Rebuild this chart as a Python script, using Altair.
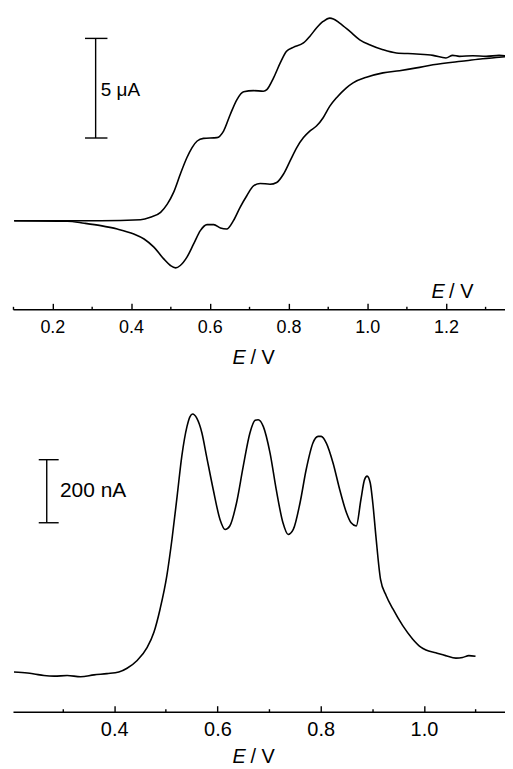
import altair as alt
import pandas as pd

# ---------------- data ----------------
# Top panel: cyclic voltammogram (E in V, current in µA, relative to baseline)
cv_fwd_E = [0.103, 0.323, 0.424, 0.449, 0.475, 0.492, 0.508, 0.525, 0.542, 0.555, 0.568,
            0.584, 0.618, 0.635, 0.652, 0.669, 0.686, 0.711, 0.736, 0.745, 0.762, 0.779,
            0.795, 0.812, 0.838, 0.854, 0.871, 0.888, 0.905, 0.914, 0.930, 0.956, 0.981,
            1.006, 1.040, 1.074, 1.125, 1.167, 1.200, 1.217, 1.234, 1.268, 1.302, 1.335, 1.361]
cv_fwd_I = [0.0, 0.0, 0.05, 0.17, 0.42, 0.83, 1.42, 2.33, 3.17, 3.67, 4.0,
            4.13, 4.17, 4.5, 5.33, 6.08, 6.47, 6.53, 6.5, 6.58, 7.17, 7.92,
            8.5, 8.7, 8.92, 9.25, 9.67, 10.0, 10.17, 10.13, 9.92, 9.5, 9.08,
            8.83, 8.58, 8.42, 8.37, 8.3, 8.17, 8.3, 8.25, 8.28, 8.25, 8.3, 8.25]
cv_rev_E = [0.103, 0.238, 0.281, 0.323, 0.365, 0.407, 0.433, 0.458, 0.483, 0.500, 0.513,
            0.525, 0.542, 0.559, 0.576, 0.593, 0.610, 0.627, 0.643, 0.660, 0.677, 0.694,
            0.711, 0.728, 0.753, 0.770, 0.787, 0.804, 0.821, 0.838, 0.854, 0.871, 0.888,
            0.905, 0.922, 0.947, 0.964, 0.998, 1.040, 1.082, 1.125, 1.167, 1.251, 1.293,
            1.335, 1.361]
cv_rev_I = [0.0, -0.03, -0.13, -0.25, -0.42, -0.67, -0.92, -1.33, -1.92, -2.25, -2.37,
            -2.25, -1.83, -1.17, -0.5, -0.2, -0.2, -0.37, -0.42, 0.0, 0.67, 1.25,
            1.75, 1.87, 1.83, 1.92, 2.33, 3.0, 3.67, 4.17, 4.5, 4.75, 5.17,
            5.75, 6.17, 6.67, 6.92, 7.2, 7.42, 7.53, 7.67, 7.83, 8.03, 8.13,
            8.2, 8.25]

# Bottom panel: differential pulse voltammogram (E in V, current in nA)
dpv_E = [0.206, 0.232, 0.245, 0.264, 0.284, 0.309, 0.335, 0.361, 0.386, 0.409, 0.425,
         0.444, 0.464, 0.477, 0.489, 0.502, 0.512, 0.522, 0.531, 0.541, 0.547, 0.552,
         0.560, 0.570, 0.579, 0.592, 0.605, 0.615, 0.624, 0.637, 0.650, 0.663, 0.673,
         0.679, 0.689, 0.702, 0.714, 0.727, 0.737, 0.747, 0.760, 0.772, 0.785, 0.795,
         0.801, 0.811, 0.824, 0.837, 0.850, 0.859, 0.869, 0.878, 0.885, 0.890, 0.896,
         0.901, 0.907, 0.916, 0.927, 0.940, 0.959, 0.978, 0.994, 1.004, 1.023, 1.042,
         1.062, 1.075, 1.087, 1.100]
dpv_I = [12, 9, 6, 1, -1, 1, -3, 3, 7, 12, 24,
         48, 90, 138, 212, 317, 433, 570, 696, 790, 822, 830,
         817, 770, 696, 590, 496, 464, 475, 548, 664, 770, 810,
         812, 790, 706, 590, 485, 448, 464, 548, 654, 738, 759,
         759, 738, 675, 590, 517, 485, 475, 559, 622, 633, 612,
         548, 443, 306, 254, 212, 159, 117, 91, 82, 73, 64,
         56, 58, 64, 62]

# axis ticks / labels
top_ticks = [0.1, 0.2, 0.3, 0.4, 0.5, 0.6, 0.7, 0.8, 0.9, 1.0, 1.1, 1.2, 1.3]
top_labels = [0.2, 0.4, 0.6, 0.8, 1.0, 1.2]
bot_ticks = [0.3, 0.4, 0.5, 0.6, 0.7, 0.8, 0.9, 1.0, 1.1]
bot_labels = [0.4, 0.6, 0.8, 1.0]

# scale bars (data units)
top_bar = {"E": 0.310, "lo": 4.15, "hi": 9.15, "capL": 0.283, "capR": 0.340}
top_bar_text = {"E": 0.323, "I": 6.58, "txt": "5 \u03bcA"}
bot_bar = {"E": 0.2694, "lo": 485.3, "hi": 685.2, "capL": 0.2539, "capR": 0.2925}
bot_bar_text = {"E": 0.295, "I": 587, "txt": "200 nA"}
corner_label = {"E_it": 1.163, "E_rest": 1.208, "I": -3.9}

FONT = "Liberation Sans"
W = 494
H_TOP = 301
H_BOT = 313

tick_cond = {"condition": {"test": "round(datum.value*10) % 2 == 0", "value": 6}, "value": 3}


def tick_axis(values, H, title, tx, ty):
    return alt.Axis(orient="top", offset=-H, values=values, labels=False, grid=False,
                    domainColor="black", domainWidth=1.5, tickColor="black", tickWidth=1.4,
                    tickSize=tick_cond, title=title, titleFont=FONT, titleFontSize=20,
                    titleFontWeight="normal", titleColor="black", titleX=tx, titleY=ty,
                    titleAlign="left", titleBaseline="alphabetic", titleAngle=0)


def label_axis(values, fsize, pad, tx, ty):
    return alt.Axis(orient="bottom", values=values, format=".1f", ticks=False, tickSize=0,
                    domain=False, grid=False, labelFont=FONT, labelFontSize=fsize,
                    labelColor="black", labelPadding=pad, labelFlush=False, labelOverlap=False,
                    title="E", titleFont=FONT, titleFontSize=20, titleFontStyle="italic",
                    titleFontWeight="normal", titleColor="black", titleX=tx, titleY=ty,
                    titleAlign="left", titleBaseline="alphabetic", titleAngle=0)


# ---------------- top panel ----------------
xs_top = alt.Scale(domain=[0.1, 1.35], nice=False, zero=False)
ys_top = alt.Scale(domain=[-4.45, 10.6], nice=False, zero=False)

cv_df = pd.concat([
    pd.DataFrame({"E": cv_fwd_E, "I": cv_fwd_I, "branch": "forward"}),
    pd.DataFrame({"E": cv_rev_E, "I": cv_rev_I, "branch": "reverse"}),
])

cv_line = alt.Chart(cv_df).mark_line(interpolate="monotone", color="black",
                                     strokeWidth=1.6, clip=True).encode(
    x=alt.X("E:Q", scale=xs_top, axis=tick_axis(top_ticks, H_TOP, "/ V", 238, 54)),
    y=alt.Y("I:Q", scale=ys_top, axis=None),
    detail="branch:N",
)

bar_df_top = pd.DataFrame({
    "x": [top_bar["E"], top_bar["capL"], top_bar["capL"]],
    "x2": [top_bar["E"], top_bar["capR"], top_bar["capR"]],
    "y": [top_bar["lo"], top_bar["lo"], top_bar["hi"]],
    "y2": [top_bar["hi"], top_bar["lo"], top_bar["hi"]],
})
bar_top = alt.Chart(bar_df_top).mark_rule(color="black", strokeWidth=1.4).encode(
    x=alt.X("x:Q", scale=xs_top, axis=label_axis(top_labels, 18, 9, 220, 54)),
    x2="x2:Q",
    y=alt.Y("y:Q", scale=ys_top, axis=None),
    y2="y2:Q",
)

txt_top = alt.Chart(pd.DataFrame([top_bar_text])).mark_text(
    font=FONT, fontSize=19, align="left", baseline="middle", color="black").encode(
    x=alt.X("E:Q", scale=xs_top, axis=None),
    y=alt.Y("I:Q", scale=ys_top, axis=None),
    text="txt:N",
)

corner_df = pd.DataFrame({
    "E": [corner_label["E_it"], corner_label["E_rest"]],
    "I": [corner_label["I"], corner_label["I"]],
    "txt": ["E", "/ V"],
})
corner_it = alt.Chart(corner_df.iloc[[0]]).mark_text(
    font=FONT, fontSize=20, fontStyle="italic", align="left", baseline="alphabetic",
    color="black").encode(
    x=alt.X("E:Q", scale=xs_top, axis=None),
    y=alt.Y("I:Q", scale=ys_top, axis=None),
    text="txt:N",
)
corner_rest = alt.Chart(corner_df.iloc[[1]]).mark_text(
    font=FONT, fontSize=20, align="left", baseline="alphabetic", color="black").encode(
    x=alt.X("E:Q", scale=xs_top, axis=None),
    y=alt.Y("I:Q", scale=ys_top, axis=None),
    text="txt:N",
)

top = alt.layer(cv_line, bar_top, txt_top, corner_it, corner_rest).resolve_axis(
    x="independent").properties(width=W, height=H_TOP)

# ---------------- bottom panel ----------------
xs_bot = alt.Scale(domain=[0.204, 1.1571], nice=False, zero=False)
ys_bot = alt.Scale(domain=[-113.7, 874.6], nice=False, zero=False)

dpv_df = pd.DataFrame({"E": dpv_E, "I": dpv_I})
dpv_line = alt.Chart(dpv_df).mark_line(interpolate="monotone", color="black",
                                       strokeWidth=1.6, clip=True).encode(
    x=alt.X("E:Q", scale=xs_bot, axis=tick_axis(bot_ticks, H_BOT, "/ V", 238, 51)),
    y=alt.Y("I:Q", scale=ys_bot, axis=None),
)

bar_df_bot = pd.DataFrame({
    "x": [bot_bar["E"], bot_bar["capL"], bot_bar["capL"]],
    "x2": [bot_bar["E"], bot_bar["capR"], bot_bar["capR"]],
    "y": [bot_bar["lo"], bot_bar["lo"], bot_bar["hi"]],
    "y2": [bot_bar["hi"], bot_bar["lo"], bot_bar["hi"]],
})
bar_bot = alt.Chart(bar_df_bot).mark_rule(color="black", strokeWidth=1.4).encode(
    x=alt.X("x:Q", scale=xs_bot, axis=label_axis(bot_labels, 20, 8, 220, 51)),
    x2="x2:Q",
    y=alt.Y("y:Q", scale=ys_bot, axis=None),
    y2="y2:Q",
)

txt_bot = alt.Chart(pd.DataFrame([bot_bar_text])).mark_text(
    font=FONT, fontSize=21, align="left", baseline="middle", color="black").encode(
    x=alt.X("E:Q", scale=xs_bot, axis=None),
    y=alt.Y("I:Q", scale=ys_bot, axis=None),
    text="txt:N",
)

bottom = alt.layer(dpv_line, bar_bot, txt_bot).resolve_axis(
    x="independent").properties(width=W, height=H_BOT)

chart = alt.vconcat(top, bottom, spacing=33).properties(
    padding={"left": 4, "top": 0, "right": 0, "bottom": 0}
).configure_view(stroke=None)

chart.save("out.html", embed_options={"renderer": "svg", "actions": False})
